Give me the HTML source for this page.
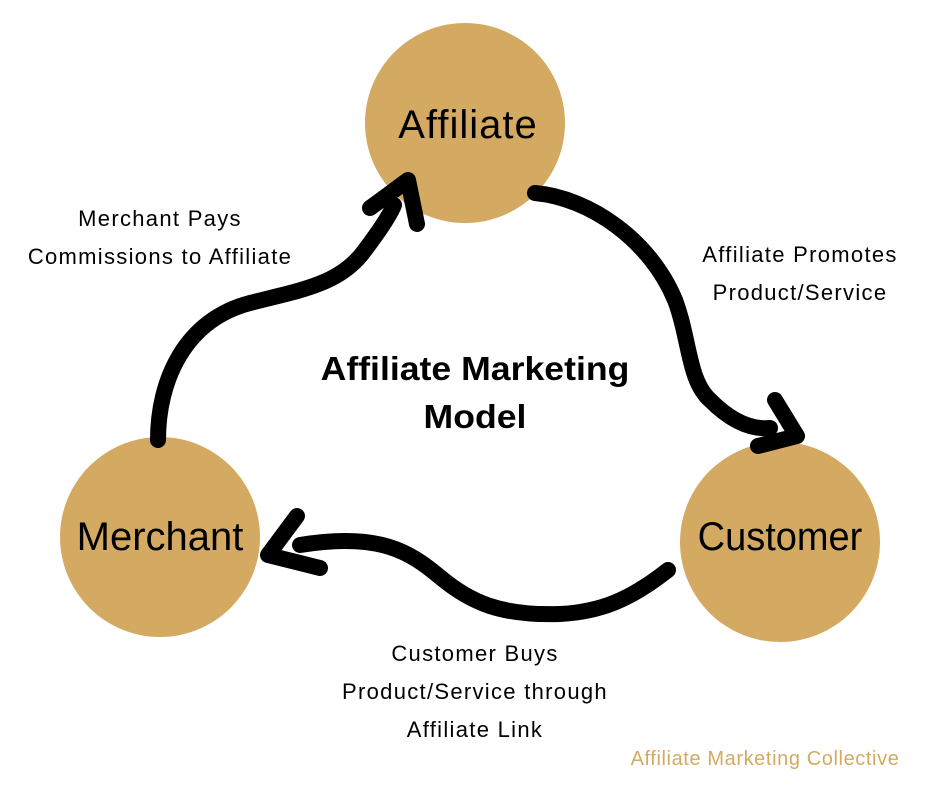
<!DOCTYPE html>
<html><head><meta charset="utf-8"><style>
html,body{margin:0;padding:0;background:#fff;}
svg{display:block;}
text{font-family:"Liberation Sans",sans-serif;}
</style></head><body>
<svg width="940" height="788" viewBox="0 0 940 788" xmlns="http://www.w3.org/2000/svg">
<circle cx="465" cy="123" r="100" fill="#D4AA62"/>
<circle cx="160" cy="537" r="100" fill="#D4AA62"/>
<circle cx="780" cy="542" r="100" fill="#D4AA62"/>
<g fill="none" stroke="#000" stroke-width="16" stroke-linecap="round" stroke-linejoin="round">
<path d="M158,440 C158,380 185,320 250,303 C300,290 340,285 365,250 C380,230 390,215 394,205"/>
<path d="M370,208 L408,180 L417,224"/>
<path d="M535,193 C590,198 650,240 675,300 C690,340 688,380 710,400 C730,420 750,430 770,428"/>
<path d="M775,400 L797,436 L758,446"/>
<path d="M668,570 C630,600 600,612 560,614 C500,616 470,602 440,577 C410,552 380,532 300,545"/>
<path d="M297,516 L268,555 L320,568"/>
</g>
<g text-anchor="middle" fill="#000">
<text x="468" y="138" font-size="40" letter-spacing="1">Affiliate</text>
<text x="160" y="550" font-size="40">Merchant</text>
<text x="780" y="550" font-size="40" transform="translate(780,0) scale(0.95,1) translate(-780,0)">Customer</text>
<g font-size="33" font-weight="bold" transform="translate(475,0) scale(1.08,1) translate(-475,0)">
<text x="475" y="380">Affiliate Marketing</text>
<text x="475" y="428">Model</text>
</g>
<g font-size="22" letter-spacing="1.3">
<text x="160" y="226">Merchant Pays</text>
<text x="160" y="264">Commissions to Affiliate</text>
</g>
<g font-size="22" letter-spacing="1.3">
<text x="800" y="262">Affiliate Promotes</text>
<text x="800" y="300">Product/Service</text>
</g>
<g font-size="22" letter-spacing="1.3">
<text x="475" y="661">Customer Buys</text>
<text x="475" y="699">Product/Service through</text>
<text x="475" y="737">Affiliate Link</text>
</g>
<text x="765" y="765" font-size="20" letter-spacing="0.6" fill="#D4AA62">Affiliate Marketing Collective</text>
</g>
</svg>
</body></html>
